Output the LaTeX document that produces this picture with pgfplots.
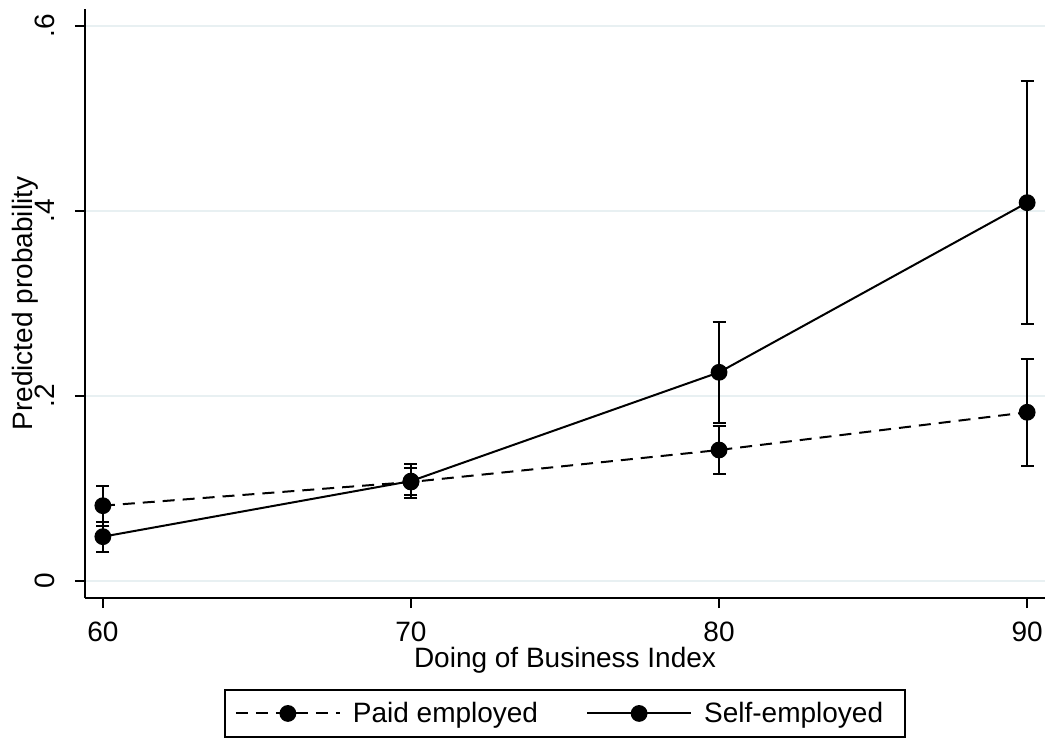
\documentclass[border=0pt]{standalone}
\usepackage{fontspec}
\setmainfont{Liberation Sans}
\usepackage{pgfplots}
\pgfplotsset{compat=1.18}
\definecolor{gridc}{RGB}{232,240,242}
\newcommand{\fs}{\fontsize{14}{16}\selectfont}

\begin{document}
\begin{tikzpicture}
\useasboundingbox (-42.5pt,-70pt) rectangle (483.5pt,299pt);
\begin{axis}[
    scale only axis,
    width=480pt, height=294.5pt,
    xmin=59.42, xmax=90.58,
    ymin=-0.0184, ymax=0.6184,
    axis x line*=bottom, axis y line*=left,
    axis line style={-, line width=0.8pt},
    xtick={60,70,80,90},
    ytick={0,0.2,0.4,0.6},
    yticklabels={0,.2,.4,.6},
    /pgf/number format/assume math mode=true,
    tick align=outside,
    major tick length=5pt,
    tick style={black, line width=0.8pt},
    ymajorgrids,
    grid style={gridc, line width=0.8pt},
    ticklabel style={font=\fs},
    yticklabel style={rotate=90, anchor=center, yshift=15pt},
    xticklabel style={anchor=center, yshift=-12pt},
    xlabel={Doing of Business Index},
    ylabel={Predicted probability},
    label style={font=\fs},
    xlabel style={at={(axis description cs:0.5,0)}, anchor=center, yshift=-31pt},
    ylabel style={at={(axis description cs:0,0.5)}, anchor=center, yshift=30pt},
    legend columns=2,
    legend style={at={(axis description cs:0.5,0)}, anchor=north, yshift=-45.5pt,
        draw=black, line width=0.8pt, font=\fs, inner xsep=5pt, inner ysep=4pt,
        nodes={inner xsep=6pt},
        /tikz/every even column/.append style={column sep=18pt}},
    legend image code/.code={
        \draw[#1, line width=1pt, mark repeat=2, mark phase=2] plot coordinates {(0pt,0pt) (26pt,0pt) (52pt,0pt)};},
    every axis plot/.append style={black, line width=1pt, mark=*, mark size=3.7pt},
]
\addplot[dash pattern=on 6pt off 4pt, mark options={solid},
    error bars/.cd, y dir=both, y explicit,
    error bar style={solid, line width=1pt},
    error mark options={rotate=90, mark size=3.25pt, line width=1pt}]
    coordinates {
    (60,0.0814) += (0,0.0216) -= (0,0.0219)
    (70,0.107)  += (0,0.0155) -= (0,0.014)
    (80,0.1416) += (0,0.026)  -= (0,0.0263)
    (90,0.1824) += (0,0.0576) -= (0,0.0577)
    };
\addlegendentry{Paid employed}
\addplot[solid,
    error bars/.cd, y dir=both, y explicit,
    error bar style={solid, line width=1pt},
    error mark options={rotate=90, mark size=3.25pt, line width=1pt}]
    coordinates {
    (60,0.0479) += (0,0.0156) -= (0,0.0162)
    (70,0.108)  += (0,0.018)  -= (0,0.0186)
    (80,0.2256) += (0,0.0541) -= (0,0.0546)
    (90,0.409)  += (0,0.132)  -= (0,0.131)
    };
\addlegendentry{Self-employed}
\end{axis}
\end{tikzpicture}
\end{document}
